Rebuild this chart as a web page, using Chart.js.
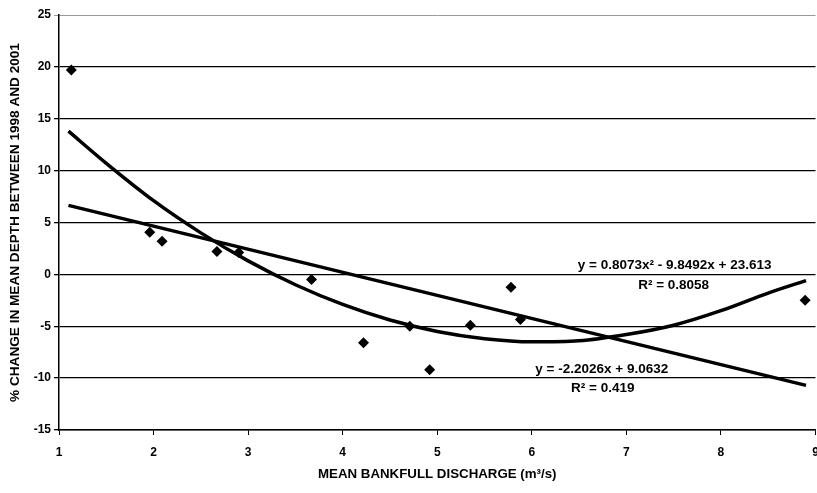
<!DOCTYPE html>
<html>
<head>
<meta charset="utf-8">
<script src="https://cdn.jsdelivr.net/npm/chart.js@4/dist/chart.umd.min.js"></script>
<style>
  html, body { margin: 0; padding: 0; background: #fff; overflow: hidden; }
  #wrap { width: 817px; height: 493px; overflow: hidden; }
</style>
</head>
<body>
<div id="wrap"><canvas id="chart" width="821" height="493"></canvas></div>
<script>
// 관측값 (유량, 수심 변화율)
const dischargeX = [1.13, 1.96, 2.09, 2.67, 2.9, 3.67, 4.22, 4.71, 4.92, 5.35, 5.78, 5.88, 8.89];
const depthChange = [19.7, 4.05, 3.2, 2.2, 2.1, -0.5, -6.6, -5.0, -9.2, -4.9, -1.25, -4.35, -2.5];

// 직선 추세선 (양 끝점)
const linearX = [1.1, 8.9];
const linearY = [6.65, -10.7];

// 2차 추세선 (그림에서 읽은 점)
const polyX = [1.1, 1.5, 2, 2.5, 3, 3.5, 4, 4.5, 5, 5.5, 6, 6.5, 7, 7.5, 8, 8.5, 8.9];
const polyY = [13.8, 10.7, 7.1, 4.0, 1.3, -1.0, -2.9, -4.4, -5.5, -6.2, -6.5, -6.4, -5.8, -4.9, -3.5, -1.8, -0.6];

// 축 눈금
const yTicks = [25, 20, 15, 10, 5, 0, -5, -10, -15];
const xTicks = [1, 2, 3, 4, 5, 6, 7, 8, 9];

// 추세식 텍스트
const polyEquation = "y = 0.8073x\u00B2 - 9.8492x + 23.613";
const polyR2 = "R\u00B2 = 0.8058";
const linearEquation = "y = -2.2026x + 9.0632";
const linearR2 = "R\u00B2 = 0.419";

const FONT = "'Liberation Sans', Arial, sans-serif";

function toPoints(xs, ys) {
  return xs.map((x, i) => ({ x: x, y: ys[i] }));
}

// 추세식 라벨 그리기
const equationPlugin = {
  id: "equations",
  afterDatasetsDraw(chart) {
    const { ctx, scales } = chart;
    const labels = [
      { text: polyEquation, x: 7.51, y: 0.87 },
      { text: polyR2, x: 7.5, y: -1.06 },
      { text: linearEquation, x: 6.74, y: -9.15 },
      { text: linearR2, x: 6.75, y: -11.0 },
    ];
    ctx.save();
    ctx.fillStyle = "#000";
    ctx.font = "bold 13.5px " + FONT;
    ctx.textAlign = "center";
    ctx.textBaseline = "middle";
    labels.forEach((l) => {
      ctx.fillText(l.text, scales.x.getPixelForValue(l.x), scales.y.getPixelForValue(l.y));
    });
    ctx.restore();
  },
};

new Chart(document.getElementById("chart"), {
  type: "scatter",
  data: {
    datasets: [
      {
        label: "data",
        data: toPoints(dischargeX, depthChange),
        pointStyle: "rectRot",
        pointRadius: 5.5,
        backgroundColor: "#000",
        borderColor: "#000",
        borderWidth: 0,
        order: 1,
      },
      {
        label: "linear",
        data: toPoints(linearX, linearY),
        showLine: true,
        pointRadius: 0,
        borderColor: "#000",
        borderWidth: 3.5,
        order: 2,
      },
      {
        label: "poly",
        data: toPoints(polyX, polyY),
        showLine: true,
        pointRadius: 0,
        borderColor: "#000",
        borderWidth: 3.5,
        cubicInterpolationMode: "monotone",
        order: 2,
      },
    ],
  },
  options: {
    responsive: false,
    animation: false,
    layout: { padding: { top: 15, right: 2, left: 0, bottom: 0 } },
    plugins: {
      legend: { display: false },
      tooltip: { enabled: false },
    },
    scales: {
      x: {
        type: "linear",
        min: 1,
        max: 9,
        afterFit(scale) {
          scale.height = 63;
          scale.paddingRight = 0;
          scale.paddingLeft = 0;
        },
        afterBuildTicks(scale) { scale.ticks = xTicks.map((v) => ({ value: v })); },
        grid: {
          drawOnChartArea: false,
          drawTicks: true,
          tickLength: 5,
          color: "#000",
        },
        border: { color: "#000", width: 1.5 },
        ticks: {
          color: "#000",
          padding: 10,
          maxRotation: 0,
          font: { family: FONT, size: 12, weight: "bold" },
        },
        title: {
          display: true,
          text: "MEAN BANKFULL DISCHARGE (m\u00B3/s)",
          color: "#000",
          padding: { top: 0, bottom: 11 },
          font: { family: FONT, size: 13.3, weight: "bold" },
        },
      },
      y: {
        type: "linear",
        min: -15,
        max: 25,
        afterFit(scale) {
          scale.width = 59;
          scale.paddingTop = 0;
          scale.paddingBottom = 0;
        },
        afterBuildTicks(scale) { scale.ticks = yTicks.map((v) => ({ value: v })); },
        grid: {
          drawTicks: true,
          tickLength: 5,
          color: (c) => (c.tick && c.tick.value === 25 ? "#999" : "#000"),
          lineWidth: (c) => (c.tick && c.tick.value === 25 ? 1 : 1.3),
        },
        border: { color: "#000", width: 1.5 },
        ticks: {
          color: "#000",
          padding: 3,
          font: { family: FONT, size: 12, weight: "bold" },
        },
        title: {
          display: true,
          text: "% CHANGE IN MEAN DEPTH BETWEEN 1998 AND 2001",
          color: "#000",
          padding: { top: 7, bottom: 0 },
          font: { family: FONT, size: 13.6, weight: "bold" },
        },
      },
    },
  },
  plugins: [equationPlugin],
});
</script>
</body>
</html>
